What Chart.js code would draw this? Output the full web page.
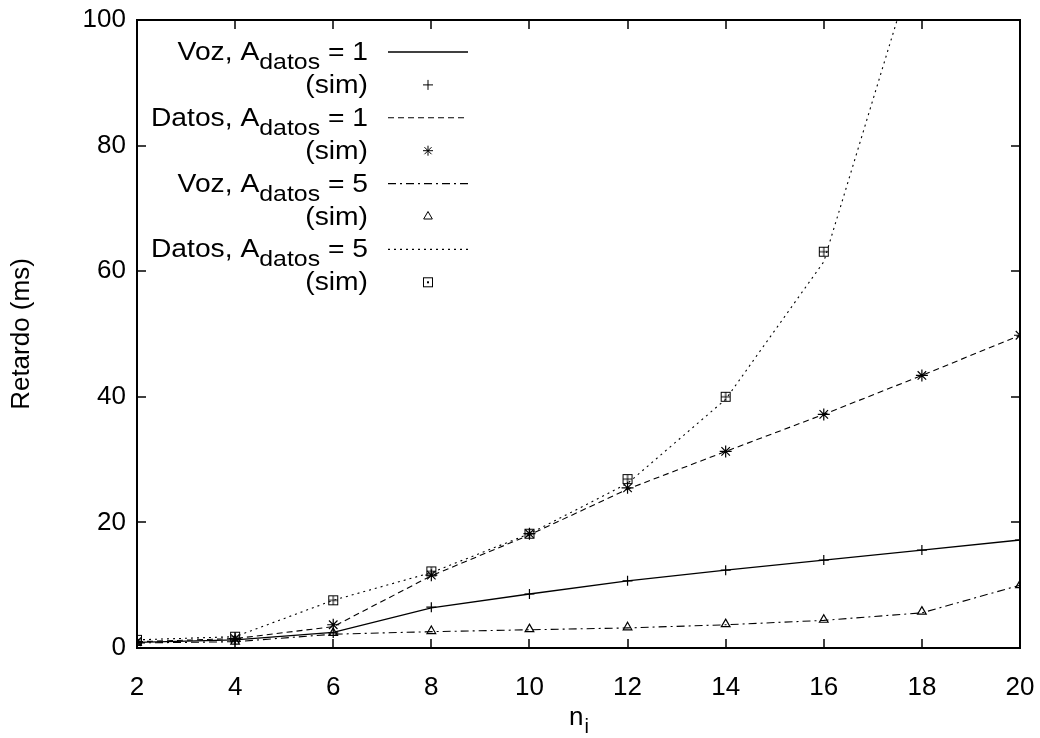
<!DOCTYPE html>
<html>
<head>
<meta charset="utf-8">
<script src="https://cdn.jsdelivr.net/npm/chart.js@4.4.0/dist/chart.umd.min.js"></script>
<style>
  html, body { margin: 0; padding: 0; background: #fff; }
  #chart { display: block; }
</style>
</head>
<body>
<canvas id="chart" width="1040" height="738"></canvas>
<script>
// n_i values on the x axis
var nValues = [2, 4, 6, 8, 10, 12, 14, 16, 18, 20];

// Retardo (ms) - theory curves and simulation points
var vozA1 = [0.9, 1.3, 2.5, 6.4, 8.6, 10.7, 12.4, 14.0, 15.6, 17.2];
var vozA1Sim = [0.9, 1.3, 2.4, 6.5, 8.6, 10.7, 12.4, 14.0, 15.6, 17.2];
var datosA1 = [1.0, 1.5, 3.4, 11.5, 18.0, 25.3, 31.3, 37.2, 43.4, 49.8];
var datosA1Sim = [1.0, 1.5, 3.7, 11.6, 18.2, 25.5, 31.3, 37.2, 43.4, 49.8];
var vozA5 = [0.8, 1.0, 2.2, 2.6, 2.9, 3.2, 3.7, 4.4, 5.6, 10.0];
var vozA5Sim = [0.8, 1.0, 2.4, 2.7, 3.0, 3.3, 3.8, 4.5, 5.8, 10.0];
var datosA5 = [1.3, 1.8, 7.6, 12.0, 18.2, 26.2, 39.6, 61.5, 113, null];
var datosA5Sim = [1.3, 1.8, 7.6, 12.2, 18.2, 26.9, 40.0, 63.1, null, null];

var legendLabels = [
    'Voz, A_datos = 1', '(sim)',
    'Datos, A_datos = 1', '(sim)',
    'Voz, A_datos = 5', '(sim)',
    'Datos, A_datos = 5', '(sim)'
];
var xTicks = [2, 4, 6, 8, 10, 12, 14, 16, 18, 20];
var yTicks = [0, 20, 40, 60, 80, 100];

var FONT = "'Liberation Sans', Arial, Helvetica, sans-serif";

function toPoints(ys) {
    var pts = [];
    for (var i = 0; i < nValues.length; i++) {
        if (ys[i] !== null) pts.push({ x: nValues[i], y: ys[i] });
    }
    return pts;
}

// boxed cross marker for the Datos A=5 simulation points
function makeBoxCross() {
    var c = document.createElement('canvas');
    c.width = 12; c.height = 12;
    var g = c.getContext('2d');
    g.strokeStyle = '#000';
    g.lineWidth = 1;
    g.strokeRect(1.5, 1.5, 9, 9);
    g.beginPath();
    g.moveTo(6, 1.5); g.lineTo(6, 10.5);
    g.moveTo(1.5, 6); g.lineTo(10.5, 6);
    g.stroke();
    return c;
}

function lineSet(label, ys, dash, width) {
    return {
        label: label,
        data: toPoints(ys),
        borderColor: '#000',
        borderWidth: width,
        borderDash: dash,
        pointRadius: 0,
        fill: false,
        tension: 0
    };
}

function simSet(label, ys, style, radius) {
    return {
        label: label,
        data: toPoints(ys),
        showLine: false,
        borderColor: '#000',
        backgroundColor: 'rgba(0,0,0,0)',
        pointStyle: style,
        pointRadius: radius,
        pointBorderWidth: 1.2,
        pointBorderColor: '#000'
    };
}

var boxCross = makeBoxCross();

var datasets = [
    lineSet(legendLabels[0], vozA1, [], 1.3),
    simSet(legendLabels[1], vozA1Sim, 'cross', 5),
    lineSet(legendLabels[2], datosA1, [6, 4], 1.1),
    simSet(legendLabels[3], datosA1Sim, 'star', 6),
    lineSet(legendLabels[4], vozA5, [8, 4, 2, 4], 1.1),
    simSet(legendLabels[5], vozA5Sim, 'triangle', 5),
    lineSet(legendLabels[6], datosA5, [2, 4], 1.1),
    simSet(legendLabels[7], datosA5Sim, boxCross, 6)
];

// draws "main_sub rest" text, right aligned at x
function drawSubText(ctx, text, x, y, mainSize, subSize, stretch) {
    var parts = text.match(/^([^_]*)(?:_(\S+))?(.*)$/);
    var main = parts[1], sub = parts[2] || '', rest = parts[3] || '';
    ctx.save();
    ctx.translate(x, y);
    ctx.scale(stretch, 1);
    ctx.textBaseline = 'alphabetic';
    ctx.textAlign = 'left';
    ctx.font = mainSize + 'px ' + FONT;
    var wMain = ctx.measureText(main).width;
    var wRest = ctx.measureText(rest).width;
    ctx.font = subSize + 'px ' + FONT;
    var wSub = ctx.measureText(sub).width;
    var cx = -(wMain + wSub + wRest);
    ctx.font = mainSize + 'px ' + FONT;
    ctx.fillText(main, cx, 0);
    cx += wMain;
    ctx.font = subSize + 'px ' + FONT;
    ctx.fillText(sub, cx, 9);
    cx += wSub;
    ctx.font = mainSize + 'px ' + FONT;
    ctx.fillText(rest, cx, 0);
    ctx.restore();
}

var framePlugin = {
    id: 'gnuplotFrame',
    afterDraw: function(chart) {
        var ctx = chart.ctx;
        var a = chart.chartArea;
        var xs = chart.scales.x, ys = chart.scales.y;
        ctx.save();
        ctx.strokeStyle = '#000';
        ctx.fillStyle = '#000';
        ctx.setLineDash([]);

        // inner ticks on all four sides
        ctx.lineWidth = 1.5;
        ctx.beginPath();
        xTicks.forEach(function(v) {
            var px = Math.round(xs.getPixelForValue(v));
            ctx.moveTo(px, a.bottom); ctx.lineTo(px, a.bottom - 9);
            ctx.moveTo(px, a.top); ctx.lineTo(px, a.top + 9);
        });
        yTicks.forEach(function(v) {
            var py = Math.round(ys.getPixelForValue(v));
            ctx.moveTo(a.left, py); ctx.lineTo(a.left + 9, py);
            ctx.moveTo(a.right, py); ctx.lineTo(a.right - 9, py);
        });
        ctx.stroke();

        // frame
        ctx.lineWidth = 2;
        ctx.strokeRect(a.left, a.top, a.right - a.left, a.bottom - a.top);

        // axis titles
        ctx.font = '26px ' + FONT;
        ctx.textAlign = 'center';
        ctx.textBaseline = 'middle';
        ctx.save();
        ctx.translate(22, (a.top + a.bottom) / 2);
        ctx.rotate(-Math.PI / 2);
        ctx.fillText('Retardo (ms)', 0, 0);
        ctx.restore();

        ctx.textBaseline = 'alphabetic';
        ctx.textAlign = 'left';
        var mid = (a.left + a.right) / 2;
        ctx.font = '26px ' + FONT;
        var wn = ctx.measureText('n').width;
        ctx.font = '20px ' + FONT;
        var wi = ctx.measureText('i').width;
        var sx = mid - (wn + wi) / 2;
        ctx.font = '26px ' + FONT;
        ctx.fillText('n', sx, 725);
        ctx.font = '20px ' + FONT;
        ctx.fillText('i', sx + wn + 1, 733);

        // key, gnuplot style: right aligned text, sample on the right
        var textRight = 368, x0 = 388, x1 = 468, rowTop = 52, rowStep = 32.9;
        chart.data.datasets.forEach(function(ds, i) {
            var y = rowTop + i * rowStep;
            ctx.fillStyle = '#000';
            drawSubText(ctx, ds.label, textRight, y + 8, 25, 22, 1.13);
            if (ds.showLine === false) {
                ctx.lineWidth = 1;
                if (ds.pointStyle === boxCross) {
                    ctx.strokeRect(423.5, y - 4.5, 9, 9);
                    ctx.fillRect(427, y - 1, 2, 2);
                } else {
                    ctx.fillStyle = 'rgba(0,0,0,0)';
                    Chart.helpers.drawPoint(ctx, {
                        pointStyle: ds.pointStyle,
                        radius: 5,
                        rotation: 0,
                        borderWidth: 1
                    }, 428, y);
                }
            } else {
                ctx.save();
                ctx.lineWidth = ds.borderWidth;
                ctx.setLineDash(ds.borderDash);
                ctx.beginPath();
                ctx.moveTo(x0, y);
                ctx.lineTo(x1, y);
                ctx.stroke();
                ctx.restore();
            }
        });
        ctx.restore();
    }
};

var ctx = document.getElementById('chart').getContext('2d');
var chart = new Chart(ctx, {
    type: 'line',
    data: { datasets: datasets },
    options: {
        responsive: false,
        animation: false,
        devicePixelRatio: 1,
        layout: { padding: { top: 20, right: 20, left: 0, bottom: 0 } },
        plugins: {
            legend: { display: false },
            tooltip: { enabled: false }
        },
        scales: {
            x: {
                type: 'linear',
                min: 2,
                max: 20,
                afterFit: function(scale) {
                    scale.height = 90;
                    scale.paddingLeft = 0;
                    scale.paddingRight = 0;
                },
                afterBuildTicks: function(scale) {
                    scale.ticks = xTicks.map(function(v) { return { value: v }; });
                },
                grid: { display: false, drawTicks: false },
                border: { display: false },
                ticks: {
                    color: '#000',
                    padding: 24,
                    maxRotation: 0,
                    font: { family: FONT, size: 26 }
                }
            },
            y: {
                min: 0,
                max: 100,
                afterFit: function(scale) {
                    scale.width = 137;
                    scale.paddingTop = 0;
                    scale.paddingBottom = 0;
                },
                afterBuildTicks: function(scale) {
                    scale.ticks = yTicks.map(function(v) { return { value: v }; });
                },
                grid: { display: false, drawTicks: false },
                border: { display: false },
                ticks: {
                    color: '#000',
                    padding: 11,
                    font: { family: FONT, size: 26 }
                }
            }
        }
    },
    plugins: [framePlugin]
});
</script>
</body>
</html>
